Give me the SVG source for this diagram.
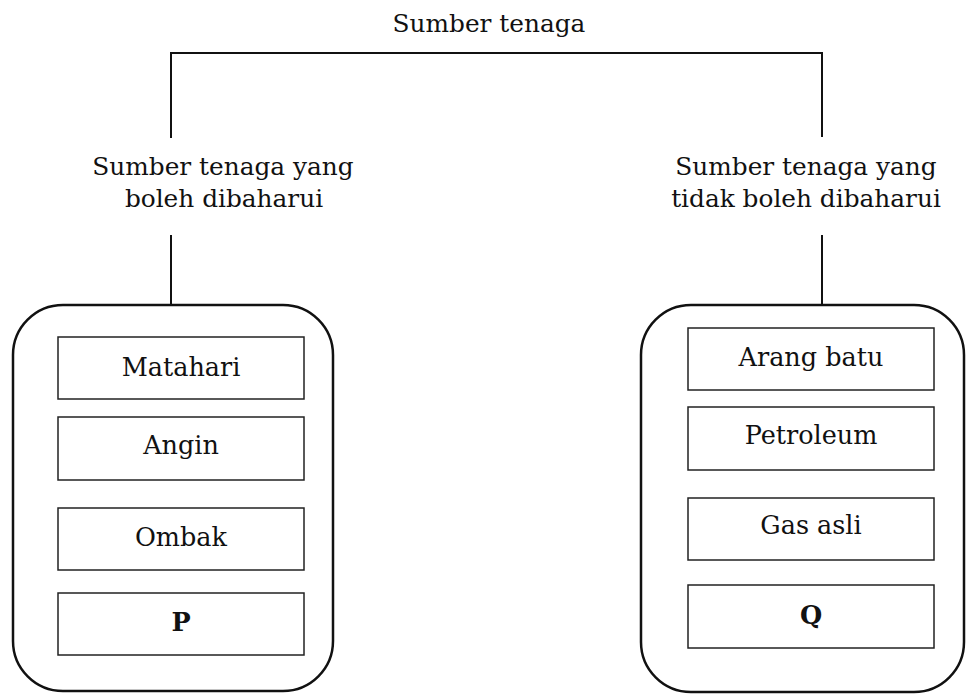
<svg xmlns="http://www.w3.org/2000/svg" width="967" height="696" viewBox="0 0 967 696">
<style>
text{font-family:"DejaVu Serif","Liberation Serif",serif;fill:#111;text-anchor:middle}
.t{font-size:24.8px}
.b{font-size:25.5px}
.bold{font-weight:bold}
.line{stroke:#111;stroke-width:2;fill:none}
.outer{stroke:#111;stroke-width:2.5;fill:#fff}
.inner{stroke:#222;stroke-width:1.5;fill:#fff}
</style>
<rect width="967" height="696" fill="#fff"/>
<g id="connectors">
<polyline class="line" points="171,138 171,53 822,53 822,137"/>
<line class="line" x1="171" y1="235" x2="171" y2="305"/>
<line class="line" x1="822" y1="235" x2="822" y2="305"/>
</g>
<g id="root"><text class="t" x="489" y="32">Sumber tenaga</text></g>
<g id="renewable-label"><text class="t" x="223" y="175">Sumber tenaga yang</text><text class="t" x="224" y="207">boleh dibaharui</text></g>
<g id="nonrenewable-label"><text class="t" x="806" y="175">Sumber tenaga yang</text><text class="t" x="806" y="207">tidak boleh dibaharui</text></g>
<g id="renewable">
<rect class="outer" x="13" y="305" width="320" height="386" rx="50" ry="50"/>
</g>
<g id="matahari"><rect class="inner" x="58" y="337" width="246" height="62"/><text class="b" x="181" y="376">Matahari</text></g>
<g id="angin"><rect class="inner" x="58" y="417" width="246" height="63"/><text class="b" x="181" y="454">Angin</text></g>
<g id="ombak"><rect class="inner" x="58" y="508" width="246" height="62"/><text class="b" x="181" y="546">Ombak</text></g>
<g id="p"><rect class="inner" x="58" y="593" width="246" height="62"/><text class="b bold" x="181" y="631">P</text></g>
<g id="nonrenewable">
<rect class="outer" x="641" y="305" width="323" height="387" rx="50" ry="50"/>
</g>
<g id="arang"><rect class="inner" x="688" y="328" width="246" height="62"/><text class="b" x="811" y="366">Arang batu</text></g>
<g id="petroleum"><rect class="inner" x="688" y="407" width="246" height="63"/><text class="b" x="811" y="444">Petroleum</text></g>
<g id="gas"><rect class="inner" x="688" y="498" width="246" height="62"/><text class="b" x="811" y="534">Gas asli</text></g>
<g id="q"><rect class="inner" x="688" y="585" width="246" height="63"/><text class="b bold" x="811" y="624">Q</text></g>
</svg>
